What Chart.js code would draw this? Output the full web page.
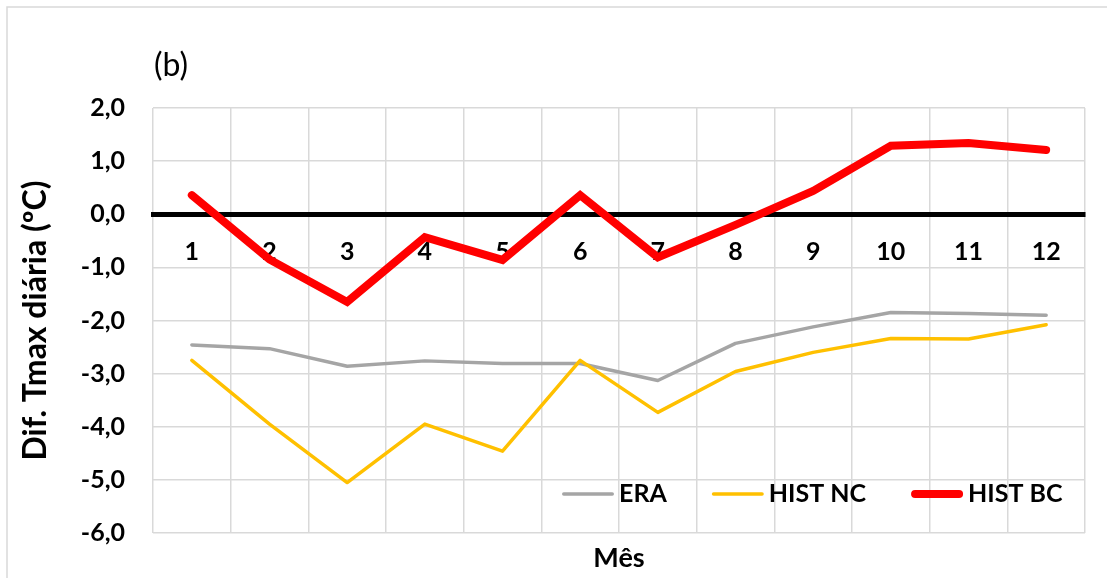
<!DOCTYPE html>
<html>
<head>
<meta charset="utf-8">
<script src="https://cdn.jsdelivr.net/npm/chart.js@4"></script>
<style>
  html, body { margin: 0; padding: 0; background: #fff; }
  canvas { display: block; }
</style>
</head>
<body>
<canvas id="c" width="1107" height="578"></canvas>
<script>
// ---- Data ----
const months = ['1','2','3','4','5','6','7','8','9','10','11','12'];
const era    = [-2.46, -2.53, -2.86, -2.76, -2.81, -2.81, -3.13, -2.43, -2.12, -1.85, -1.87, -1.90];
const histNC = [-2.75, -3.95, -5.05, -3.95, -4.46, -2.75, -3.73, -2.96, -2.60, -2.34, -2.35, -2.08];
const histBC = [0.36, -0.85, -1.65, -0.43, -0.86, 0.36, -0.81, -0.20, 0.44, 1.29, 1.34, 1.21];
const yTickLabels = ['-6,0','-5,0','-4,0','-3,0','-2,0','-1,0','0,0','1,0','2,0'];
const seriesNames = ['ERA', 'HIST NC', 'HIST BC'];
const panelLabel = '(b)';
const xTitle = 'Mês';
const yTitle = 'Dif. Tmax diária (ºC)';

const FONT = 'Lato';
const GRID = '#d9d9d9';

const framePlugin = {
  id: 'frame',
  beforeDraw(chart) {
    const ctx = chart.ctx;
    ctx.save();
    ctx.fillStyle = '#fff';
    ctx.fillRect(0, 0, chart.width, chart.height);
    ctx.strokeStyle = GRID;
    ctx.lineWidth = 1.5;
    ctx.beginPath();
    ctx.moveTo(7, chart.height + 5);
    ctx.lineTo(7, 7);
    ctx.lineTo(chart.width + 5, 7);
    ctx.stroke();
    ctx.restore();
  },
  afterDraw(chart) {
    const ctx = chart.ctx;
    const ca = chart.chartArea;
    ctx.save();
    // panel label
    ctx.fillStyle = '#000';
    ctx.font = 'normal 32px ' + FONT;
    ctx.textBaseline = 'middle';
    ctx.textAlign = 'left';
    ctx.fillText(panelLabel, ca.left + 1, 66);
    // legend inside plot area
    ctx.font = 'bold 25px ' + FONT;
    let x = 562;
    const y = 494;
    [0, 1, 2].forEach(i => {
      const ds = chart.data.datasets[i];
      const lw = ds.borderWidth;
      ctx.strokeStyle = ds.borderColor;
      ctx.lineWidth = lw;
      ctx.lineCap = 'round';
      ctx.beginPath();
      ctx.moveTo(x + lw / 2, y);
      ctx.lineTo(x + 52 - lw / 2, y);
      ctx.stroke();
      ctx.fillStyle = '#000';
      ctx.fillText(ds.label, x + 57, y);
      x = x + 57 + ctx.measureText(ds.label).width + 45;
    });
    ctx.restore();
  }
};

new Chart(document.getElementById('c'), {
  type: 'line',
  data: {
    labels: months,
    datasets: [
      { label: seriesNames[0], data: era, borderColor: '#A5A5A5', borderWidth: 3.5,
        pointRadius: 0, tension: 0, borderCapStyle: 'round', borderJoinStyle: 'round', order: 3, xAxisID: 'x' },
      { label: seriesNames[1], data: histNC, borderColor: '#FFC000', borderWidth: 3.5,
        pointRadius: 0, tension: 0, borderCapStyle: 'round', borderJoinStyle: 'round', order: 2, xAxisID: 'x' },
      { label: seriesNames[2], data: histBC, borderColor: '#FF0000', borderWidth: 8,
        pointRadius: 0, tension: 0, borderCapStyle: 'round', borderJoinStyle: 'miter', order: 1, xAxisID: 'x' }
    ]
  },
  options: {
    responsive: false,
    animation: false,
    layout: { padding: { left: 16, right: 22, top: 108, bottom: 4 } },
    plugins: { legend: { display: false }, tooltip: { enabled: false }, title: { display: false } },
    scales: {
      x: {
        type: 'category',
        position: { y: 0 },
        offset: true,
        grid: { display: true, offset: true, color: GRID, lineWidth: 1.5, drawTicks: false },
        border: { display: true, color: '#000', width: 5 },
        ticks: { display: false }
      },
      xl: {
        type: 'category',
        position: { y: 0 },
        offset: true,
        z: 1,
        grid: { display: false, drawTicks: false },
        border: { display: false },
        ticks: { color: '#000', font: { family: FONT, size: 25, weight: 'bold' }, padding: 23, maxRotation: 0, autoSkip: false }
      },
      x2: {
        type: 'category',
        position: 'bottom',
        offset: true,
        grid: { display: false, drawTicks: false },
        border: { display: false },
        ticks: { display: false },
        title: { display: true, text: xTitle, color: '#000', padding: 0,
                 font: { family: FONT, size: 27, weight: 'bold' } },
        afterFit(scale) { scale.height = 41; }
      },
      y: {
        min: -6, max: 2,
        position: 'left',
        grid: { color: GRID, lineWidth: 1.5, drawTicks: false },
        border: { display: false },
        ticks: {
          stepSize: 1,
          color: '#000',
          padding: 28,
          font: { family: FONT, size: 25, weight: 'bold' },
          callback: (v) => yTickLabels[Math.round(v) + 6]
        },
        title: { display: true, text: yTitle, color: '#000', padding: 0,
                 font: { family: FONT, size: 32, weight: 'bold' } },
        afterFit(scale) { scale.width = 137; }
      }
    }
  },
  plugins: [framePlugin]
});
</script>
</body>
</html>
